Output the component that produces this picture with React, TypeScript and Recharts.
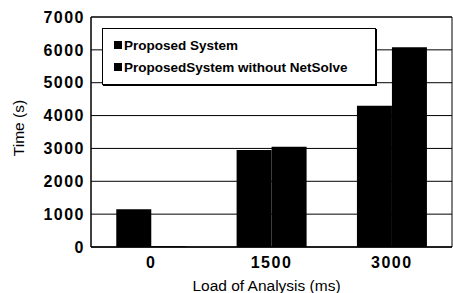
import React from 'react';
import { BarChart, Bar, XAxis, YAxis, CartesianGrid, Legend, ReferenceArea } from 'recharts';

const categories = ['0', '1500', '3000'];
const proposedSystem = [1150, 2950, 4300];
const withoutNetSolve = [20, 3050, 6080];
const yTicks = [0, 1000, 2000, 3000, 4000, 5000, 6000, 7000];

const data = categories.map((load, i) => ({
  load,
  proposed: proposedSystem[i],
  without: withoutNetSolve[i],
}));

const tickStyle = { fontFamily: 'Liberation Sans, Arial, sans-serif', fontSize: 16, fontWeight: 700, fill: '#000', letterSpacing: 1.5 };
const labelFont = 'Liberation Sans, Arial, sans-serif';

const LegendBox = ({ payload }: any) => (
  <div
    style={{
      border: '1px solid #000',
      boxShadow: '1px 1px 0 #000',
      background: '#fff',
      height: '100%',
      boxSizing: 'border-box',
      padding: '5px 0 0 11px',
      fontFamily: labelFont,
      fontWeight: 700,
      fontSize: 13.5,
      color: '#000',
    }}
  >
    {(payload || []).map((entry: any) => (
      <div key={entry.value} style={{ display: 'flex', alignItems: 'center', height: 22 }}>
        <span style={{ display: 'inline-block', width: 8, height: 8, background: '#000', marginRight: 2 }} />
        <span>{entry.value}</span>
      </div>
    ))}
  </div>
);

export default function App() {
  return (
    <div style={{ position: 'absolute', left: 0, top: 0, width: 453, height: 293, background: '#fff' }}>
      <BarChart
        width={453}
        height={293}
        data={data}
        margin={{ top: 17, right: 1, bottom: 0, left: 0 }}
        barCategoryGap="21%"
        barGap={0}
      >
        <CartesianGrid vertical={false} stroke="#000" strokeOpacity={1} />
        <XAxis
          dataKey="load"
          height={46}
          tickLine={false}
          tickSize={6}
          tickMargin={4}
          axisLine={{ stroke: '#000' }}
          tick={tickStyle}
          label={{
            content: ({ viewBox }: any) => (
              <text
                x={viewBox.x + viewBox.width / 2 - 5}
                y={viewBox.y + viewBox.height - 2}
                textAnchor="middle"
                fontFamily={labelFont}
                fontSize={15.5}
                fill="#000"
              >
                Load of Analysis (ms)
              </text>
            ),
          }}
        />
        <YAxis
          width={91}
          domain={[0, 7000]}
          ticks={yTicks}
          interval={0}
          tickLine={false}
          tickSize={4}
          tickMargin={2}
          axisLine={{ stroke: '#000' }}
          tick={tickStyle}
          label={{
            content: ({ viewBox }: any) => {
              const cx = viewBox.x + 18;
              const cy = viewBox.y + viewBox.height / 2 - 4;
              return (
                <text
                  x={cx}
                  y={cy}
                  transform={`rotate(-90 ${cx} ${cy})`}
                  textAnchor="middle"
                  dominantBaseline="central"
                  fontFamily={labelFont}
                  fontSize={15.5}
                  fill="#000"
                >
                  Time (s)
                </text>
              );
            },
          }}
        />
        <Legend
          layout="vertical"
          align="center"
          verticalAlign="middle"
          content={<LegendBox />}
          wrapperStyle={{ left: 102, top: 28, width: 274, height: 57 }}
        />
        <Bar dataKey="proposed" name="Proposed System" fill="#000" isAnimationActive={false} />
        <Bar dataKey="without" name="ProposedSystem without NetSolve" fill="#000" isAnimationActive={false} />
        <ReferenceArea y1={0} y2={7000} fill="none" stroke="#000" strokeWidth={1} ifOverflow="visible" />
      </BarChart>
    </div>
  );
}
